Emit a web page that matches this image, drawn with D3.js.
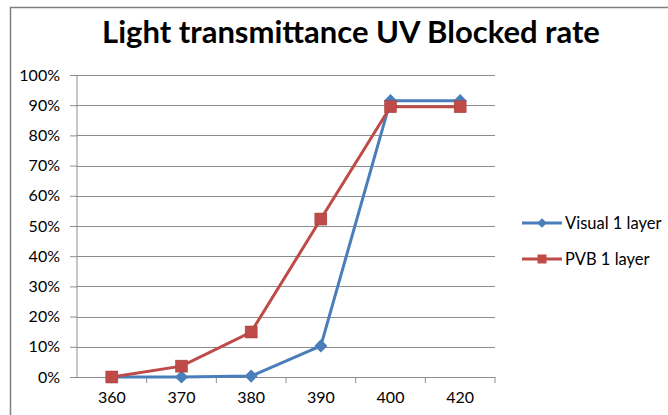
<!DOCTYPE html>
<html>
<head>
<meta charset="utf-8">
<script src="https://cdn.jsdelivr.net/npm/d3@7"></script>
<style>
  body { margin: 0; background: #fff; }
  text { font-family: Lato, "Open Sans", sans-serif; }
</style>
</head>
<body>
<div id="chart"></div>
<script>
// chart data
var wavelengths = ["360", "370", "380", "390", "400", "420"];
var visualValues = [0, 0, 0.3, 10.3, 91.5, 91.5];
var pvbValues = [0, 3.6, 14.9, 52.3, 89.5, 89.5];
var yTicks = [0, 10, 20, 30, 40, 50, 60, 70, 80, 90, 100];

var svgWidth = 668;
var svgHeight = 415;

var svg = d3.select("#chart")
  .append("svg")
  .attr("width", svgWidth)
  .attr("height", svgHeight);

// outer chart frame
svg.append("rect")
  .attr("x", 10.5)
  .attr("y", 7.5)
  .attr("width", 700)
  .attr("height", 500)
  .attr("fill", "#fff")
  .attr("stroke", "#7f7f7f")
  .attr("stroke-width", 1.5);

// title
svg.append("text")
  .attr("x", 351)
  .attr("y", 43)
  .attr("text-anchor", "middle")
  .attr("font-size", 31)
  .attr("font-weight", "bold")
  .attr("fill", "#000")
  .text("Light transmittance UV Blocked rate");

var plot = { left: 77, right: 495, top: 75, bottom: 377 };

var x = d3.scaleBand()
  .domain(wavelengths)
  .range([plot.left, plot.right]);

var y = d3.scaleLinear()
  .domain([0, 100])
  .range([plot.bottom, plot.top]);

// gridlines
svg.append("g")
  .selectAll("line")
  .data(yTicks.slice(1))
  .enter()
  .append("line")
  .attr("x1", plot.left)
  .attr("x2", plot.right)
  .attr("y1", d => Math.round(y(d)) + 0.5)
  .attr("y2", d => Math.round(y(d)) + 0.5)
  .attr("stroke", "#8c8c8c")
  .attr("stroke-width", 1);

// y axis
var yAxis = svg.append("g")
  .attr("transform", `translate(${plot.left}, 0)`)
  .call(d3.axisLeft(y).tickValues(yTicks).tickSize(7).tickPadding(10)
    .tickFormat(d => d + "%"));
yAxis.selectAll("text").attr("font-size", 16).attr("fill", "#000")
  .style("font-family", "Lato, 'Open Sans', sans-serif");
yAxis.selectAll("line").attr("stroke", "#8c8c8c");
yAxis.select(".domain").attr("stroke", "#8c8c8c").attr("d", `M0,${plot.top}V${plot.bottom}`);

// x axis
var xAxis = svg.append("g")
  .attr("transform", `translate(0, ${plot.bottom})`)
  .call(d3.axisBottom(x).tickSize(0).tickPadding(15));
xAxis.selectAll("text").attr("font-size", 16).attr("fill", "#000")
  .style("font-family", "Lato, 'Open Sans', sans-serif");
xAxis.select(".domain").attr("stroke", "#8c8c8c").attr("d", `M${plot.left},0.5H${plot.right}`);
// tick marks between categories
xAxis.selectAll(".sep")
  .data(wavelengths)
  .enter()
  .append("line")
  .attr("x1", d => x(d) + x.bandwidth())
  .attr("x2", d => x(d) + x.bandwidth())
  .attr("y1", 0)
  .attr("y2", 6)
  .attr("stroke", "#8c8c8c");

var line = d3.line()
  .x((d, i) => x(wavelengths[i]) + x.bandwidth() / 2)
  .y(d => y(d));

var blue = "#4a7ebb";
var red = "#be4b48";

// visual series
svg.append("path")
  .datum(visualValues)
  .attr("d", line)
  .attr("fill", "none")
  .attr("stroke", blue)
  .attr("stroke-width", 3);

// pvb series
svg.append("path")
  .datum(pvbValues)
  .attr("d", line)
  .attr("fill", "none")
  .attr("stroke", red)
  .attr("stroke-width", 3);

var diamond = d3.symbol().type(d3.symbolDiamond2).size(110);

svg.append("g")
  .selectAll("path")
  .data(visualValues)
  .enter()
  .append("path")
  .attr("d", diamond)
  .attr("transform", (d, i) => `translate(${x(wavelengths[i]) + x.bandwidth() / 2}, ${y(d)})`)
  .attr("fill", blue);

svg.append("g")
  .selectAll("rect")
  .data(pvbValues)
  .enter()
  .append("rect")
  .attr("x", (d, i) => x(wavelengths[i]) + x.bandwidth() / 2 - 6)
  .attr("y", d => y(d) - 6)
  .attr("width", 12)
  .attr("height", 12)
  .attr("fill", red)
  .attr("stroke", "#a33d3a")
  .attr("stroke-width", 0.5);

// legend
var legendItems = [
  { name: "Visual 1 layer", color: blue, shape: "diamond", y: 223 },
  { name: "PVB 1 layer", color: red, shape: "square", y: 259 }
];

var legend = svg.append("g");
legendItems.forEach(function(item) {
  legend.append("line")
    .attr("x1", 522)
    .attr("x2", 562)
    .attr("y1", item.y)
    .attr("y2", item.y)
    .attr("stroke", item.color)
    .attr("stroke-width", 3);
  if (item.shape === "diamond") {
    legend.append("path")
      .attr("d", d3.symbol().type(d3.symbolDiamond2).size(60))
      .attr("transform", `translate(542, ${item.y})`)
      .attr("fill", item.color);
  } else {
    legend.append("rect")
      .attr("x", 537.5)
      .attr("y", item.y - 4.5)
      .attr("width", 9)
      .attr("height", 9)
      .attr("fill", item.color);
  }
  legend.append("text")
    .attr("x", 565)
    .attr("y", item.y + 6)
    .attr("font-size", 16.5)
    .attr("fill", "#000")
    .text(item.name);
});
</script>
</body>
</html>
